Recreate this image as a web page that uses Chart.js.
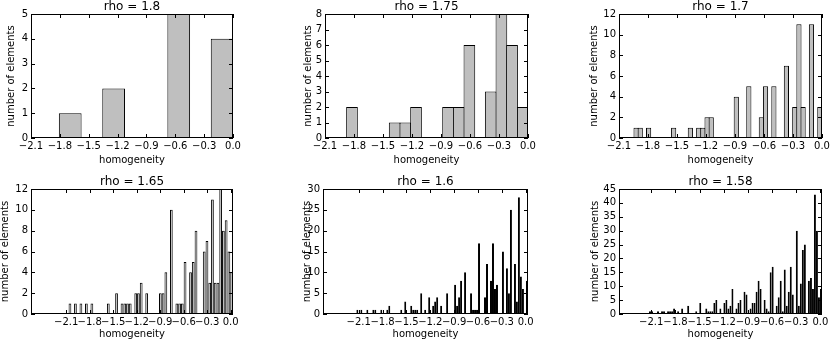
<!DOCTYPE html>
<html><head><meta charset="utf-8">
<script src="https://cdn.jsdelivr.net/npm/chart.js@4.4.0/dist/chart.umd.min.js"></script>
<style>
html,body{margin:0;padding:0;background:#fff;width:830px;height:341px;overflow:hidden;position:relative}
canvas{position:absolute}
</style></head><body>
<script>
// ---- data ----
const titles = ['rho = 1.8', 'rho = 1.75', 'rho = 1.7', 'rho = 1.65', 'rho = 1.6', 'rho = 1.58'];
const xTicks = [-2.1, -1.8, -1.5, -1.2, -0.9, -0.6, -0.3, 0.0];
const xTitle = 'homogeneity';
const yTitle = 'number of elements';

const counts180 = [1,0,2,0,0,5,0,4];
const counts175 = [2,0,0,0,1,1,2,0,0,2,2,6,0,3,8,6,2];
const counts170 = [1,1,0,1,0,0,0,0,0,1, 0,0,0,1,0,1,1,2,2,0, 0,0,0,0,4,0,0,5,0,0,
                   2,5,0,5,0,0,7,0,3,11, 3,0,11,0,3];
const counts165 = [1,0,1,0,1,0,1,0,1,0, 0,0,0,0,1,0,0,2,0,1, 1,1,1,0,2,2,3,0,2,0,
                   0,0,0,2,2,4,0,10,0,1, 1,1,5,0,4,5,8,0,0,6, 7,3,11,3,3,12,8,9,6,4];
const counts160 = [1,0,1,0,0,1,0,0,1,1, 0,0,1,0,0,1,2,0,0,0, 0,0,1,0,3,0,0,2,1,1,
                   1,0,5,0,1,0,4,0,2,3, 4,0,2,0,0,5,0,0,0,7, 2,4,8,0,10,0,0,5,1,1,
                   1,17,0,0,4,12,0,8,17,6, 7,0,0,15,0,11,5,25,0,12, 3,28,9,6,0,8];
const counts158 = [1,1,0,0,1,0,1,1,0,1, 1,1,2,0,1,0,2,0,0,3, 0,0,0,1,0,4,0,0,2,1,
                   1,1,4,5,0,2,0,4,5,2, 3,9,0,2,4,5,0,8,7,0, 2,4,4,8,12,9,0,5,2,1,
                   15,17,0,3,6,12,1,16,3,8, 17,7,0,30,3,11,23,25,0,12, 13,9,43,30,6,9];

const allCounts = [counts180, counts175, counts170, counts165, counts160, counts158];
const binStart = [-1.805, -1.876, -1.945, -2.070, -2.130, -2.128];
const binWidth = [0.2256, 0.1104, 0.0432, 0.035, 0.0251, 0.02497];
const xMin = [-2.1, -2.1, -2.1, -2.55, -2.55, -2.5];
const xMax = [0, 0, 0, 0.03, 0.03, 0.02];
const yMax = [5, 8, 12, 12, 30, 45];
const yStep = [1, 1, 2, 2, 5, 5];

// ---- layout (pixels) ----
const geo = [
  {axL: 31,  axR: 233, yW: 26, top: 0,   H: 166, xH: 28, bp: 1.047},
  {axL: 325, axR: 528, yW: 23, top: 0,   H: 166, xH: 28, bp: 1.094},
  {axL: 619, axR: 822, yW: 31, top: 0,   H: 166, xH: 28, bp: 1.24},
  {axL: 31,  axR: 233, yW: 32, top: 175, H: 165, xH: 26, bp: 1.0},
  {axL: 323, axR: 528, yW: 22, top: 175, H: 165, xH: 26, bp: 1.0},
  {axL: 619, axR: 822, yW: 30, top: 175, H: 165, xH: 26, bp: 1.0}
];
const RP = 14;

Chart.defaults.font.family = 'DejaVu Sans';
Chart.defaults.color = '#000';

const framePlugin = {
  id: 'frame',
  afterDraw(chart) {
    const {ctx, chartArea: a, scales: {x, y}} = chart;
    const L = 4;
    ctx.save();
    ctx.strokeStyle = '#000';
    ctx.lineWidth = 1;
    ctx.beginPath();
    x.ticks.forEach(t => {
      const px = Math.round(x.getPixelForValue(t.value)) + 0.5;
      ctx.moveTo(px, a.bottom); ctx.lineTo(px, a.bottom - L);
      ctx.moveTo(px, a.top); ctx.lineTo(px, a.top + L);
    });
    y.ticks.forEach(t => {
      const py = Math.round(y.getPixelForValue(t.value)) + 0.5;
      ctx.moveTo(a.left, py); ctx.lineTo(a.left + L, py);
      ctx.moveTo(a.right, py); ctx.lineTo(a.right - L, py);
    });
    ctx.stroke();
    ctx.strokeRect(Math.round(a.left) + 0.5, Math.round(a.top) + 0.5,
                   Math.round(a.right) - Math.round(a.left) - 1, Math.round(a.bottom) - Math.round(a.top) - 1);
    ctx.restore();
  }
};

function fmtX(v) {
  if (Math.abs(v) < 1e-9) return '0.0';
  return (v < 0 ? '\u2212' : '') + Math.abs(v).toFixed(1);
}

allCounts.forEach((counts, p) => {
  const g = geo[p];
  const W = g.yW + (g.axR - g.axL) + RP;
  const cv = document.createElement('canvas');
  cv.width = W; cv.height = g.H;
  cv.style.left = (g.axL - g.yW) + 'px';
  cv.style.top = g.top + 'px';
  cv.style.width = W + 'px'; cv.style.height = g.H + 'px';
  document.body.appendChild(cv);

  const data = counts.map((c, i) => ({x: binStart[p] + (i + 0.5) * binWidth[p], y: c === 0 ? null : c}));

  new Chart(cv.getContext('2d'), {
    type: 'bar',
    data: {datasets: [{
      data,
      backgroundColor: '#bfbfbf',
      borderColor: '#000',
      borderWidth: 1,
      inflateAmount: 0,
      barPercentage: g.bp,
      categoryPercentage: 1
    }]},
    options: {
      responsive: false,
      animation: false,
      devicePixelRatio: 1,
      layout: {padding: {left: 0, top: 0, bottom: 0, right: RP}},
      plugins: {
        legend: {display: false},
        tooltip: {enabled: false},
        title: {
          display: true, text: titles[p], fullSize: false, color: '#000',
          font: {size: 12, lineHeight: 1, weight: 'normal'},
          padding: {top: 1, bottom: 1}
        }
      },
      scales: {
        x: {
          type: 'linear', min: xMin[p], max: xMax[p], offset: false,
          grid: {display: false, offset: false, drawTicks: false},
          border: {display: false},
          afterBuildTicks: s => { s.ticks = xTicks.map(v => ({value: v})); },
          afterFit: s => { s.height = g.xH; },
          ticks: {autoSkip: false, maxRotation: 0, minRotation: 0, padding: 2,
                  font: {size: 10, lineHeight: 1.2}, callback: v => fmtX(v)},
          title: {display: true, text: xTitle, font: {size: 10, lineHeight: 1.2},
                  padding: {top: 0, bottom: 0}}
        },
        y: {
          type: 'linear', min: 0, max: yMax[p],
          grid: {display: false, drawTicks: false},
          border: {display: false},
          afterFit: s => { s.width = g.yW; },
          ticks: {stepSize: yStep[p], autoSkip: false, padding: 3, font: {size: 10, lineHeight: 1.2}},
          title: {display: true, text: yTitle, font: {size: 10, lineHeight: 1.2},
                  padding: {top: 0, bottom: 0}}
        }
      }
    },
    plugins: [framePlugin]
  });
});
</script>
</body></html>
